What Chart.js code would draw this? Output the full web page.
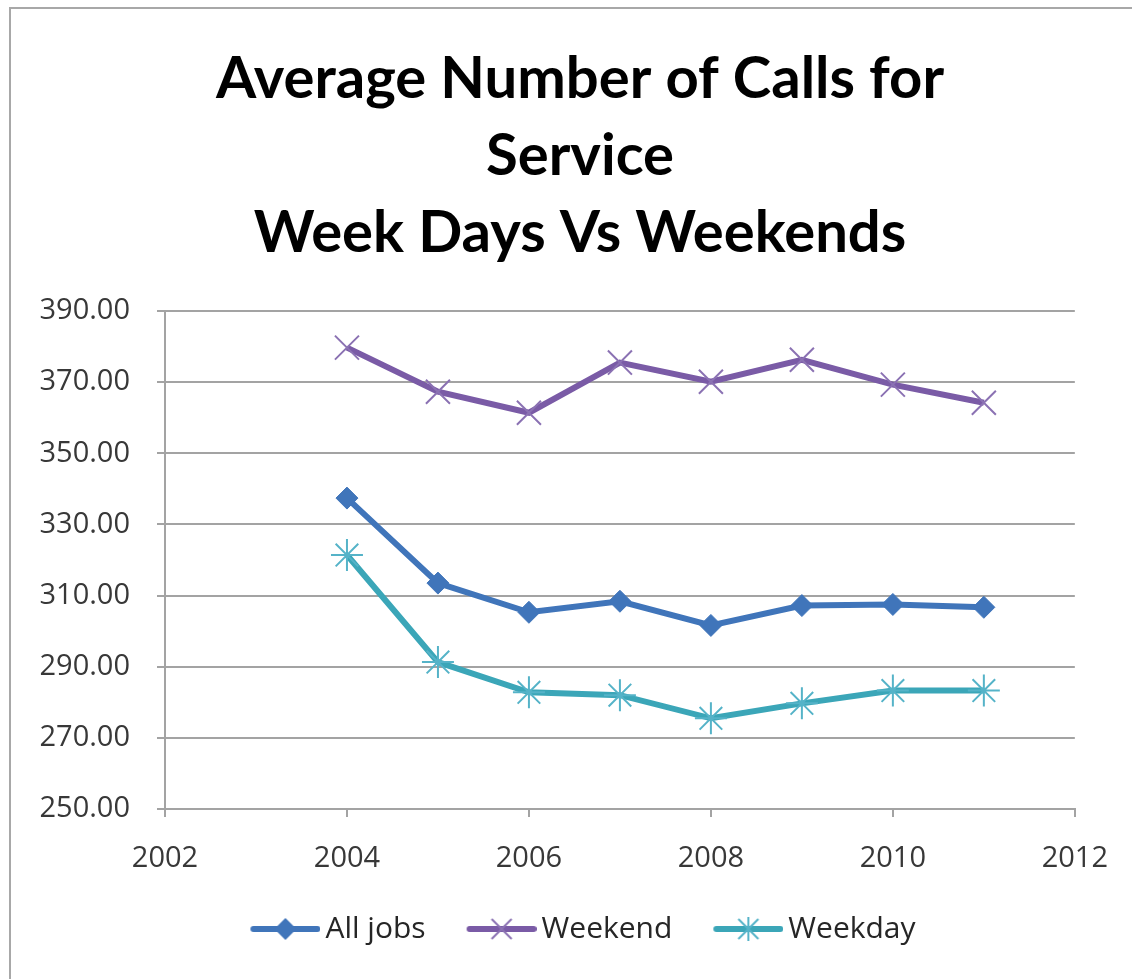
<!DOCTYPE html>
<html><head><meta charset="utf-8">
<script src="https://cdn.jsdelivr.net/npm/chart.js@4"></script>
<style>
html,body{margin:0;padding:0;background:#fff;width:1132px;height:979px;overflow:hidden}
#frame{position:absolute;left:9px;top:7px;width:1200px;height:1000px;border-left:2px solid #a8a8a8;border-top:2px solid #a8a8a8}
#wrap{position:absolute;left:0;top:0;width:1132px;height:979px}
</style></head>
<body>
<div id="frame"></div>
<div id="wrap"><canvas id="c"></canvas></div>
<script>
const years = [2004, 2005, 2006, 2007, 2008, 2009, 2010, 2011];
const allJobs = [337.4, 313.5, 305.3, 308.4, 301.6, 307.2, 307.5, 306.7];
const weekend = [379.7, 367.3, 361.4, 375.5, 370.1, 376.3, 369.3, 364.2];
const weekday = [321.4, 291.3, 282.8, 282.0, 275.5, 279.7, 283.3, 283.3];
const xTickLabels = [2002, 2004, 2006, 2008, 2010, 2012];
const yTickLabels = [250, 270, 290, 310, 330, 350, 370, 390];
const seriesNames = ['All jobs', 'Weekend', 'Weekday'];
const titleLines = ['Average Number of Calls for', 'Service', 'Week Days Vs Weekends'];

const colAll = '#4075ba', colWkend = '#7a5ba6', colWkday = '#3ba6b8';
const mkWkend = '#8b72b3', mkWkday = '#55b3c8';

function pts(vals){ return years.map((y,i)=>({x:y, y:vals[i]})); }

// legend icon: canvas 86 wide, centred at x+33 (pointStyleWidth 66); visible line from 16 to 86
function legendIcon(lineCol, mkCol, kind){
  const c = document.createElement('canvas');
  c.width = 86; c.height = 28;
  const g = c.getContext('2d');
  g.strokeStyle = lineCol; g.lineWidth = 6; g.lineCap = 'round';
  g.beginPath(); g.moveTo(19,14); g.lineTo(83,14); g.stroke();
  const cx = 51, cy = 14;
  if (kind === 'diamond'){
    g.fillStyle = lineCol; g.beginPath();
    g.moveTo(cx, cy-11); g.lineTo(cx+11, cy); g.lineTo(cx, cy+11); g.lineTo(cx-11, cy); g.closePath(); g.fill();
  } else {
    g.strokeStyle = mkCol; g.lineWidth = 2; g.lineCap = 'butt';
    const r = 10;
    g.beginPath();
    g.moveTo(cx-r, cy-r); g.lineTo(cx+r, cy+r);
    g.moveTo(cx+r, cy-r); g.lineTo(cx-r, cy+r);
    if (kind === 'star'){ g.moveTo(cx, cy-12); g.lineTo(cx, cy+12); }
    g.stroke();
  }
  return c;
}
const icons = [legendIcon(colAll, colAll, 'diamond'), legendIcon(colWkend, mkWkend, 'cross'), legendIcon(colWkday, mkWkday, 'star')];

const gridCol = '#a3a3a3';
new Chart(document.getElementById('c'), {
  type: 'line',
  data: {
    datasets: [
      {label: seriesNames[0], data: pts(allJobs), borderColor: colAll, backgroundColor: colAll, borderWidth: 6,
       pointStyle: 'rectRot', pointRadius: 11, pointBackgroundColor: colAll, pointBorderColor: colAll, pointBorderWidth: 1},
      {label: seriesNames[1], data: pts(weekend), borderColor: colWkend, backgroundColor: colWkend, borderWidth: 6,
       pointStyle: 'crossRot', pointRadius: 17, pointBorderColor: mkWkend, pointBorderWidth: 2},
      {label: seriesNames[2], data: pts(weekday), borderColor: colWkday, backgroundColor: colWkday, borderWidth: 6,
       pointStyle: 'star', pointRadius: 16, pointBorderColor: mkWkday, pointBorderWidth: 2}
    ]
  },
  options: {
    responsive: true, maintainAspectRatio: false, animation: false,
    layout: {padding: {left: 28, right: 0, top: 0, bottom: 25}},
    elements: {line: {tension: 0}},
    plugins: {
      tooltip: {enabled: false},
      title: {display: true, text: titleLines, color: '#000',
        font: {family: 'Lato', size: 58, weight: 'bold', lineHeight: '77px'},
        padding: {top: 41, bottom: 39}},
      legend: {position: 'bottom',
        labels: {usePointStyle: true, pointStyleWidth: 66, padding: 35, color: '#262626',
          font: {family: 'Open Sans', size: 30},
          generateLabels: (chart) => {
            const items = Chart.defaults.plugins.legend.labels.generateLabels(chart);
            items.forEach((it,i)=>{ it.pointStyle = icons[i]; it.fontColor = '#262626'; });
            return items;
          }}}
    },
    scales: {
      x: {type: 'linear', min: xTickLabels[0], max: xTickLabels[xTickLabels.length-1],
        afterBuildTicks: (s)=>{ s.ticks = xTickLabels.map(v=>({value:v})); },
        afterFit: (s)=>{ s.height = 70; },
        ticks: {callback: (v)=>String(v), color: '#383838', padding: 24, font: {family: 'Open Sans', size: 29}, maxRotation: 0},
        grid: {drawOnChartArea: false, drawTicks: true, tickLength: 8, color: gridCol, lineWidth: 2},
        border: {display: true, color: gridCol, width: 2}},
      y: {type: 'linear', position: 'left', min: yTickLabels[0], max: yTickLabels[yTickLabels.length-1],
        afterBuildTicks: (s)=>{ s.ticks = yTickLabels.map(v=>({value:v})); },
        afterFit: (s)=>{ s.width = 137; },
        ticks: {callback: (v)=>v.toFixed(2), color: '#383838', padding: 27, font: {family: 'Open Sans', size: 29}},
        grid: {color: gridCol, lineWidth: 2, tickLength: 8},
        border: {display: true, color: gridCol, width: 2}},
      yRight: {type: 'linear', position: 'right', min: 0, max: 1,
        afterFit: (s)=>{ s.width = 57; },
        ticks: {display: false}, grid: {display: false}, border: {display: false}}
    }
  }
});
</script>
</body></html>
